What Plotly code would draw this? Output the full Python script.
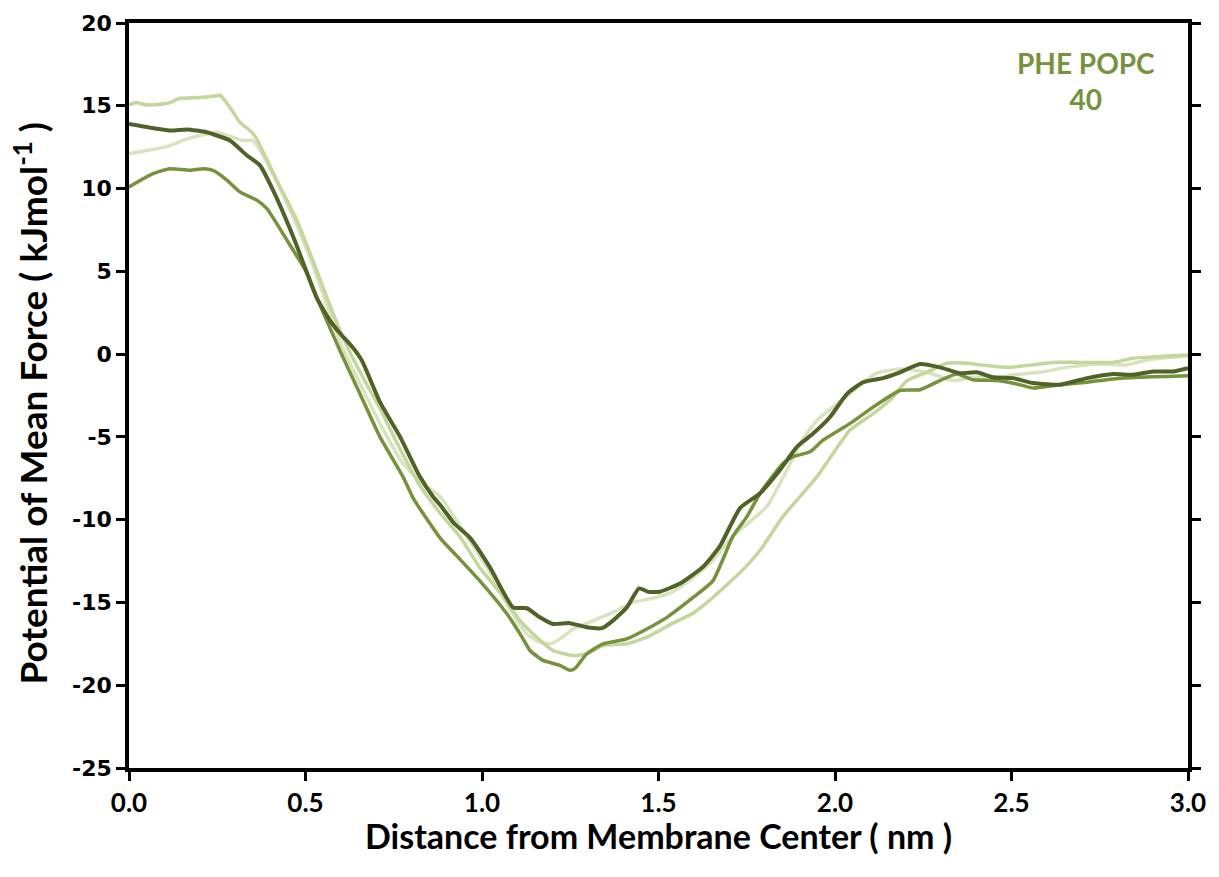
import plotly.graph_objects as go

# ---- data ----
dark_x = [0, 0.068, 0.12, 0.164, 0.22, 0.286, 0.334, 0.371, 0.408, 0.465, 0.532, 0.57, 0.6, 0.63, 0.66,
          0.711, 0.768, 0.824, 0.861, 0.881, 0.92, 0.966, 1.023, 1.088, 1.127, 1.164, 1.201, 1.249, 1.297,
          1.34, 1.371, 1.41, 1.445, 1.47, 1.504, 1.561, 1.626, 1.674, 1.731, 1.788, 1.844, 1.892,
          1.938, 1.986, 2.034, 2.079, 2.136, 2.184, 2.241, 2.297, 2.354, 2.402, 2.447, 2.504, 2.561, 2.637,
          2.714, 2.788, 2.844, 2.901, 2.958, 3.0]
dark_y = [13.9, 13.65, 13.5, 13.57, 13.4, 12.9, 12.0, 11.4, 9.9, 7.1, 3.4, 2.0, 1.2, 0.5, -0.4,
          -2.9, -5.0, -7.4, -8.6, -9.1, -10.2, -11.1, -12.9, -15.3, -15.35, -15.9, -16.3, -16.25, -16.5,
          -16.55, -16.1, -15.3, -14.15, -14.35, -14.35, -13.85, -12.85, -11.6, -9.3, -8.4, -7.0, -5.6,
          -4.8, -3.8, -2.4, -1.7, -1.45, -1.1, -0.6, -0.8, -1.15, -1.1, -1.4, -1.45, -1.75, -1.85,
          -1.45, -1.2, -1.25, -1.05, -1.05, -0.85]

med_x = [0, 0.068, 0.116, 0.173, 0.21, 0.238, 0.278, 0.314, 0.362, 0.39, 0.447, 0.504, 0.532, 0.6, 0.65,
         0.711, 0.776, 0.805, 0.881, 0.938, 0.994, 1.071, 1.108, 1.136, 1.173, 1.221, 1.249, 1.263, 1.297,
         1.343, 1.41, 1.467, 1.524, 1.598, 1.654, 1.711, 1.751, 1.788, 1.853, 1.881, 1.929, 1.966, 2.042,
         2.108, 2.184, 2.241, 2.297, 2.345, 2.39, 2.459, 2.524, 2.561, 2.637, 2.714, 2.788, 2.864, 2.94, 3.0]
med_y = [10.1, 10.9, 11.2, 11.1, 11.2, 11.1, 10.5, 9.8, 9.3, 8.8, 6.9, 4.9, 3.4, 0.1, -2.2,
         -5.0, -7.4, -8.7, -11.1, -12.4, -13.7, -15.7, -16.9, -17.9, -18.5, -18.8, -19.1, -19.0, -18.1,
         -17.5, -17.2, -16.6, -15.9, -14.7, -13.7, -11.0, -9.8, -8.4, -6.6, -6.2, -5.9, -5.2, -4.2,
         -3.2, -2.2, -2.15, -1.6, -1.2, -1.55, -1.6, -1.85, -2.05, -1.85, -1.7, -1.5, -1.4, -1.35, -1.3]

light1_x = [0, 0.02, 0.05, 0.11, 0.145, 0.2, 0.249, 0.258, 0.286, 0.314, 0.343, 0.362, 0.38, 0.428, 0.475,
            0.52, 0.561, 0.6, 0.65, 0.711, 0.76, 0.82, 0.881, 0.938, 0.994, 1.051, 1.108, 1.155, 1.201,
            1.258, 1.297, 1.343, 1.41, 1.467, 1.541, 1.598, 1.654, 1.693, 1.731, 1.788, 1.853, 1.949,
            2.042, 2.108, 2.164, 2.204, 2.26, 2.317, 2.374, 2.411, 2.487, 2.561, 2.618, 2.694, 2.788,
            2.844, 2.92, 3.0]
light1_y = [15.05, 15.2, 15.05, 15.15, 15.45, 15.5, 15.6, 15.65, 14.9, 14.0, 13.5, 13.0, 12.2, 10.1, 8.1,
            5.7, 3.4, 1.3, -0.9, -3.3, -5.4, -7.8, -9.6, -11.05, -12.9, -14.4, -16.1, -17.1, -17.9,
            -18.2, -18.1, -17.6, -17.5, -17.1, -16.25, -15.65, -14.7, -13.95, -13.2, -11.85, -9.8, -7.4,
            -4.6, -3.6, -2.6, -1.6, -1.1, -0.55, -0.55, -0.65, -0.8, -0.65, -0.5, -0.5, -0.5,
            -0.25, -0.15, -0.05]

light2_x = [0, 0.05, 0.11, 0.164, 0.22, 0.249, 0.286, 0.323, 0.351, 0.38, 0.43, 0.475, 0.52, 0.56, 0.6,
            0.65, 0.711, 0.776, 0.83, 0.881, 0.975, 1.031, 1.088, 1.127, 1.164, 1.193, 1.221, 1.258, 1.315,
            1.371, 1.428, 1.484, 1.541, 1.598, 1.654, 1.711, 1.807, 1.864, 1.901, 1.949, 1.994, 2.042,
            2.118, 2.184, 2.26, 2.336, 2.39, 2.467, 2.504, 2.58, 2.657, 2.751, 2.827, 2.884, 3.0]
light2_y = [12.1, 12.3, 12.55, 13.0, 13.3, 13.4, 13.15, 12.9, 12.9, 12.0, 9.9, 7.8, 5.4, 3.0, 0.6,
            -1.6, -4.2, -6.6, -7.8, -8.6, -11.6, -13.5, -15.7, -16.9, -17.4, -17.5, -17.2, -16.6, -16.1,
            -15.6, -15.0, -14.75, -14.35, -13.5, -12.45, -11.0, -9.2, -7.0, -5.4, -4.0, -3.2, -2.4,
            -1.15, -0.9, -1.1, -1.6, -1.4, -1.4, -1.25, -1.1, -0.8, -0.6, -0.65, -0.35, -0.1]

x_ticks = [0, 0.5, 1.0, 1.5, 2.0, 2.5, 3.0]
x_tick_text = ["0.0", "0.5", "1.0", "1.5", "2.0", "2.5", "3.0"]
y_ticks = [20, 15, 10, 5, 0, -5, -10, -15, -20, -25]
y_tick_text = ["20", "15", "10", "5", "0", "-5", "-10", "-15", "-20", "-25"]

series = [
    (light2_x, light2_y, "#D7E4BD", 3.5),
    (light1_x, light1_y, "#C3D69B", 3.5),
    (med_x, med_y, "#76923C", 3.5),
    (dark_x, dark_y, "#4F6228", 4),
]

fig = go.Figure()
for xs, ys, col, w in series:
    fig.add_trace(go.Scatter(x=xs, y=ys, mode="lines",
                             line=dict(color=col, width=w, shape="spline", smoothing=0.5),
                             showlegend=False, hoverinfo="skip"))

axis_common = dict(showgrid=False, zeroline=False, showline=True, linecolor="black", linewidth=3.5,
                   ticks="outside", ticklen=9, tickwidth=3, tickcolor="black")

fig.update_xaxes(range=[0, 3], tickvals=x_ticks, ticktext=x_tick_text, mirror=True,
                 tickfont=dict(family="Lato", size=26, color="black", weight="bold"),
                 **axis_common)
fig.update_yaxes(range=[-25, 20], tickvals=y_ticks, ticktext=y_tick_text, mirror="ticks",
                 tickfont=dict(family="DejaVu Sans", size=22, color="black", weight="bold"),
                 **axis_common)

fig.update_layout(
    width=1219, height=877,
    margin=dict(l=129, r=31, t=23, b=109),
    paper_bgcolor="white", plot_bgcolor="white",
    annotations=[
        dict(text="Distance from Membrane Center ( nm )", xref="paper", yref="paper",
             x=0.5, y=0, xanchor="center", yanchor="middle", yshift=-67, showarrow=False,
             font=dict(family="Lato", size=34, color="black", weight="bold")),
        dict(text="Potential of Mean Force ( kJmol<sup>-1</sup> )", xref="paper", yref="paper",
             x=0, y=0.5, xanchor="center", yanchor="middle", xshift=-99, yshift=-8,
             textangle=-90, showarrow=False,
             font=dict(family="Lato", size=37, color="black", weight="bold")),
        dict(text="PHE POPC<br>40", xref="paper", yref="paper",
             x=0.9037, y=0.922, xanchor="center", yanchor="middle", showarrow=False,
             font=dict(family="Lato", size=28, color="#76923C", weight="bold")),
    ],
)

fig.write_html("out.html")
